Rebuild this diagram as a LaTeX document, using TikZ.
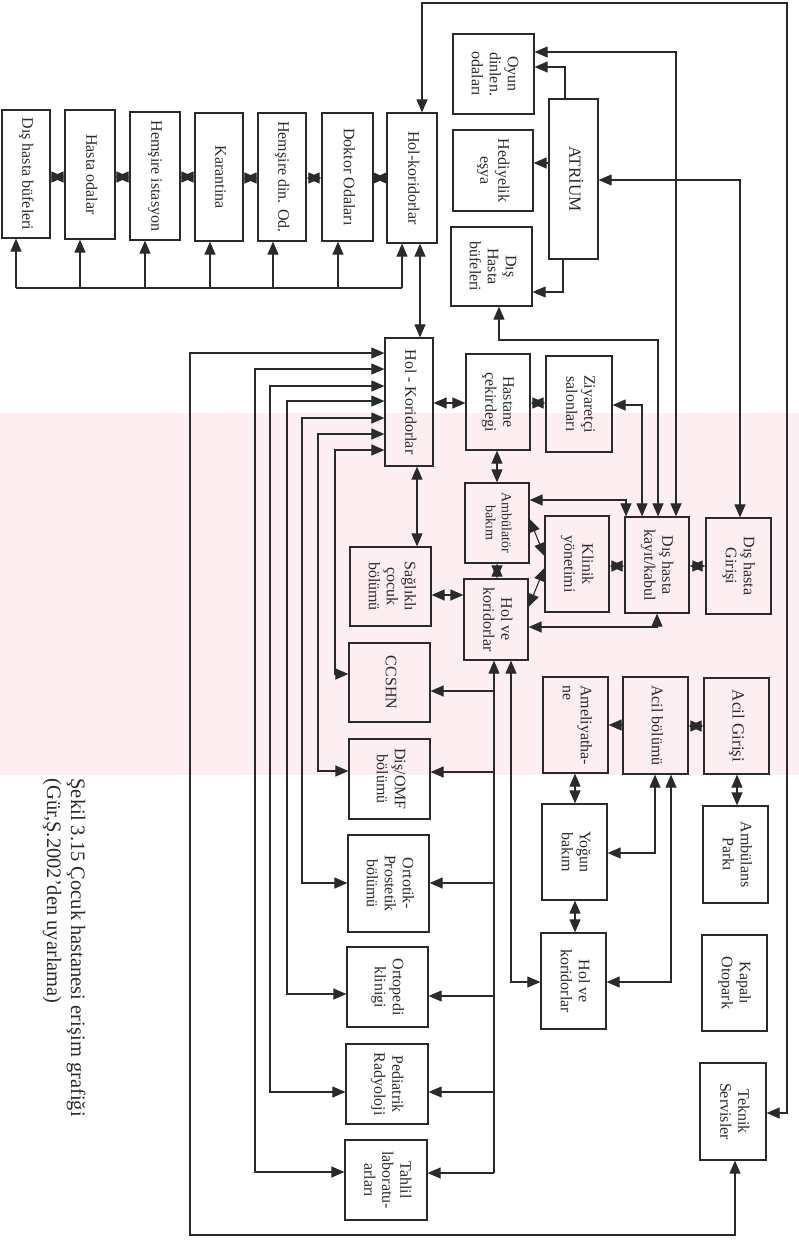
\documentclass[tikz,border=0pt]{standalone}
\usepackage{fontspec}
\setmainfont{Liberation Serif}
\usetikzlibrary{arrows.meta}
\definecolor{ln}{HTML}{2A2A2A}
\definecolor{wm}{HTML}{FCEEF1}
\tikzset{
  box/.style={draw, line width=1.2pt, inner sep=0pt, font=\fontsize{16}{18}\selectfont},
  a/.style={-{Triangle[length=13pt,width=11pt]}},
  aa/.style={{Triangle[length=13pt,width=11pt]}-{Triangle[length=13pt,width=11pt]}},
}
\newcommand{\bx}[7][]{\node[box,#1, minimum width={#5-#3}, minimum height={#6-#4}] (#2) at ({(#3+#5)/2},{(#4+#6)/2}) {\rotatebox{-90}{\begin{tabular}{@{}c@{}}#7\end{tabular}}};}
\begin{document}
\begin{tikzpicture}[x=1pt,y=-1pt,line width=1.1pt,color=ln]
\useasboundingbox (0,0) rectangle (799,1243);
% faint watermark band
\fill[wm] (0,413) rectangle (799,775);
% left row
\bx{dhb}{2}{110}{50}{238}{Dış hasta büfeleri}
\bx{hod}{65}{110}{115}{239}{Hasta odalar}
\bx{his}{130}{112}{180}{240}{Hemşire istasyon}
\bx{kar}{195}{113}{243}{241}{Karantina}
\bx{hdo}{258}{113}{306}{241}{Hemşire din. Od.}
\bx{dok}{322}{113}{373}{241}{Doktor Odaları}
\bx{hk1}{387}{113}{437}{243}{Hol-koridorlar}
% atrium group
\bx{oyun}{453}{34}{534}{114}{Oyun\\dinlen.\\odaları}
\bx{hed}{453}{130}{533}{211}{Hediyelik\\eşya}
\bx{buf2}{451}{227}{532}{306}{Dış\\Hasta\\büfeleri}
\bx[font=\fontsize{17}{19}\selectfont]{atr}{549}{99}{598}{259}{ATRİUM}
% middle
\bx{hk2}{385}{338}{433}{466}{Hol - Koridorlar}
\bx{cek}{466}{354}{530}{450}{Hastane\\çekirdegi}
\bx{ziy}{546}{356}{612}{452}{Ziyaretçi\\salonları}
\bx[font=\fontsize{14}{16}\selectfont]{amb}{465}{483}{529}{563}{Ambülatör\\bakım}
\bx{kli}{545}{516}{609}{612}{Klinik\\yönetimi}
\bx{kay}{625}{517}{689}{613}{Dış hasta\\kayıt/kabul}
\bx{gir}{706}{518}{771}{614}{Dış hasta\\Girişi}
\bx{sag}{350}{547}{431}{626}{Sağlıklı\\çocuk\\bölümü}
\bx{hvk1}{464}{579}{528}{660}{Hol ve\\koridorlar}
% left column of departments
\bx{ccs}{349}{643}{430}{722}{CCSHN}
\bx{dis}{349}{739}{430}{819}{Diş/OMF\\bölümü}
\bx{ort}{348}{835}{429}{932}{Ortotik-\\Prostetik\\bölümü}
\bx{opd}{347}{947}{428}{1027}{Ortopedi\\klinigi}
\bx{ped}{346}{1044}{428}{1124}{Pediatrik\\Radyoloji}
\bx{tah}{345}{1140}{427}{1220}{Tahlil\\laboratu-\\arları}
% emergency
\node[box, minimum width=65, minimum height=96] (amel) at (575.5,725) {\rotatebox{-90}{\begin{tabular}{@{}l@{}}Ameliyatha-\\ne\end{tabular}}};
\bx{acil}{623}{677}{688}{774}{Acil bölümü}
\bx[font=\fontsize{17}{19}\selectfont]{acg}{704}{678}{769}{774}{Acil Girişi}
\bx{yog}{542}{804}{607}{900}{Yoğun\\bakım}
\bx{ambp}{703}{806}{768}{903}{Ambülans\\Parkı}
\bx{hvk2}{541}{933}{606}{1029}{Hol ve\\koridorlar}
\bx{kap}{702}{935}{767}{1031}{Kapalı\\Otopark}
\bx{tek}{700}{1063}{766}{1160}{Teknik\\Servisler}

% ---- connectors ----
\foreach \p/\q/\y in {dhb/hod/177, hod/his/177, his/kar/177, kar/hdo/178, hdo/dok/178, dok/hk1/178}
  \draw[aa] (\p.east |- 0,\y) -- (\q.west |- 0,\y);
\coordinate (bus0) at (16,288);
\coordinate (bus1) at (402,288);
\draw (bus0) -- (bus1);
\foreach \n/\x in {dhb/16, hod/80, his/145, kar/210, hdo/273, dok/338, hk1/402}
  \draw[a] (\x,288) -- (\n.south -| \x,0);
\draw[aa] (hk1.south -| 420,0) -- (hk2.north -| 420,0);
\draw[aa] (hk1.north -| 422,0) |- (787,3) |- (tek.east |- 0,1113);
% atrium
\draw[a] (atr.north -| 565,0) |- (oyun.east |- 0,67);
\draw[a] (atr.west |- 0,163) -- (hed.east |- 0,163);
\draw[a] (atr.south -| 563,0) |- (buf2.east |- 0,292);
\draw[aa] (oyun.east |- 0,52) -| (kay.north -| 676,0);
\draw[aa] (atr.east |- 0,180) -| (gir.north -| 740,0);
\draw[aa] (buf2.south -| 499,0) |- (658,340) -- (kay.north -| 658,0);
\draw[aa] (ziy.east |- 0,405) -| (kay.north -| 642,0);
\draw[aa] (amb.east |- 0,500) -| (kay.north -| 626,0);
\draw[aa] (kay.south -| 657,0) |- (hvk1.east |- 0,627);
\draw[aa] (gir.west |- 0,566) -- (kay.east |- 0,566);
\draw[aa] (kay.west |- 0,566) -- (kli.east |- 0,566);
\draw[aa] (amb.east |- 0,519) -- (kli.west |- 0,556);
\draw[aa] (kli.west |- 0,568) -- (hvk1.east |- 0,607);
\draw[aa] (amb.south -| 497,0) -- (hvk1.north -| 497,0);
\draw[aa] (cek.south -| 497,0) -- (amb.north -| 497,0);
\draw[aa] (cek.east |- 0,403) -- (ziy.west |- 0,403);
\draw[aa] (hk2.east |- 0,403) -- (cek.west |- 0,403);
\draw[aa] (hk2.south -| 417,0) -- (sag.north -| 417,0);
\draw[aa] (sag.east |- 0,595) -- (hvk1.west |- 0,595);
% trunk right of departments
\draw[a] (494,1173) -- (hvk1.south -| 494,0);
\foreach \n/\y in {ccs/691, dis/772, ort/883, opd/996, ped/1092, tah/1173}
  \draw[a] (494,\y) -- (\n.east |- 0,\y);
\draw[aa] (hvk1.south -| 511,0) |- (hvk2.west |- 0,982);
% trunks left of departments
\foreach \y/\x/\n/\t in {450/335/ccs/674, 434/318/dis/771, 418/302/ort/883, 401/287/opd/994, 386/270/ped/1092, 369/255/tah/1172}
  \draw[aa] (hk2.west |- 0,\y) -| (\x,\t) -- (\n.west |- 0,\t);
\draw[aa] (hk2.west |- 0,353) -| (190,1235) -| (tek.south -| 735,0);
% emergency
\draw[a] (acil.west |- 0,725) -- (amel.east |- 0,725);
\draw[aa] (acg.west |- 0,726) -- (acil.east |- 0,726);
\draw[aa] (acg.south -| 737,0) -- (ambp.north -| 737,0);
\draw[aa] (amel.south -| 575,0) -- (yog.north -| 575,0);
\draw[aa] (yog.south -| 575,0) -- (hvk2.north -| 575,0);
\draw[aa] (acil.south -| 655,0) |- (yog.east |- 0,853);
\draw[aa] (acil.south -| 671,0) |- (hvk2.east |- 0,982);
% caption
\node[rotate=-90, anchor=north west, align=left, inner sep=0pt, font=\fontsize{20.5}{24}\selectfont] (cap) at (86,778) {Şekil 3.15 Çocuk hastanesi erişim grafiği\\(Gür,Ş.2002'den uyarlama)};
\end{tikzpicture}
\end{document}
